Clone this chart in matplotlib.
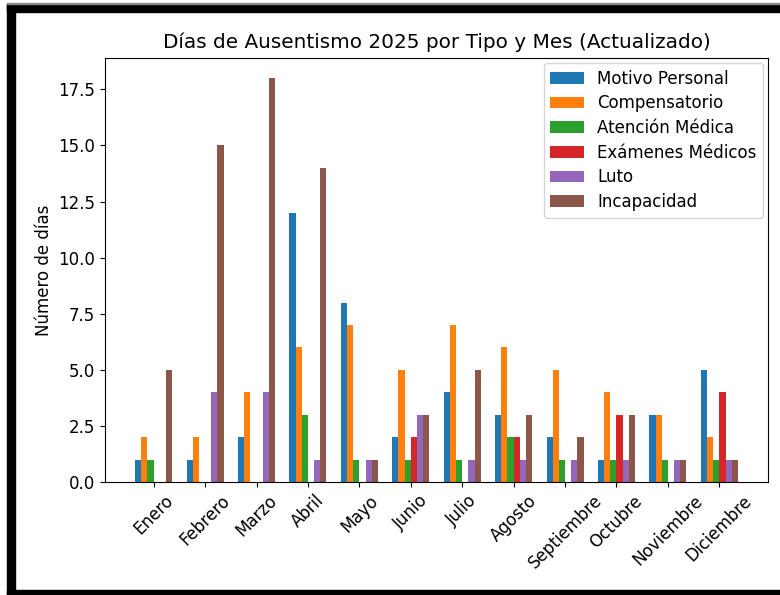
import numpy as np
import matplotlib.pyplot as plt
from matplotlib.patches import Rectangle

meses = ['Enero', 'Febrero', 'Marzo', 'Abril', 'Mayo', 'Junio', 'Julio',
         'Agosto', 'Septiembre', 'Octubre', 'Noviembre', 'Diciembre']

motivo_personal = [1, 1, 2, 12, 8, 2, 4, 3, 2, 1, 3, 5]
compensatorio = [2, 2, 4, 6, 7, 5, 7, 6, 5, 4, 3, 2]
atencion_medica = [1, 0, 0, 3, 1, 1, 1, 2, 1, 1, 1, 1]
examenes_medicos = [0, 0, 0, 0, 0, 2, 0, 2, 0, 3, 0, 4]
luto = [0, 4, 4, 1, 1, 3, 1, 1, 1, 1, 1, 1]
incapacidad = [5, 15, 18, 14, 1, 3, 5, 3, 2, 3, 1, 1]

series = [('Motivo Personal', motivo_personal),
          ('Compensatorio', compensatorio),
          ('Atención Médica', atencion_medica),
          ('Exámenes Médicos', examenes_medicos),
          ('Luto', luto),
          ('Incapacidad', incapacidad)]

plt.rcParams['font.size'] = 12

fig = plt.figure(figsize=(7.8, 5.95), dpi=100)
ax = fig.add_axes([105/780, 1 - 482/595, 663/780, 424/595])

x = np.arange(len(meses))
w = 0.12
for i, (nombre, vals) in enumerate(series):
    ax.bar(x + (i - 2.5) * w, vals, w, label=nombre)

ax.set_title('Días de Ausentismo 2025 por Tipo y Mes (Actualizado)', fontsize=14.4, pad=7)
ax.set_ylabel('Número de días')
ax.set_xticks(x)
ax.set_xticklabels(meses, rotation=45)
ax.legend(loc='upper right', labelspacing=0.4, borderaxespad=0.3)

# marco negro de la captura
W, H = 780, 595
fig.patches.append(Rectangle((7/W, 0), 8/W, 1 - 4/H, transform=fig.transFigure,
                             color='black', zorder=10))
fig.patches.append(Rectangle((7/W, 1 - 12/H), 1, 8/H, transform=fig.transFigure,
                             color='black', zorder=10))
fig.patches.append(Rectangle((7/W, 1 - 4/H), 1, 1/H, transform=fig.transFigure,
                             color='#888888', zorder=10))
fig.patches.append(Rectangle((7/W, 0), 1, 5/H, transform=fig.transFigure,
                             color='black', zorder=10))

fig.savefig('out.png', dpi=100)
